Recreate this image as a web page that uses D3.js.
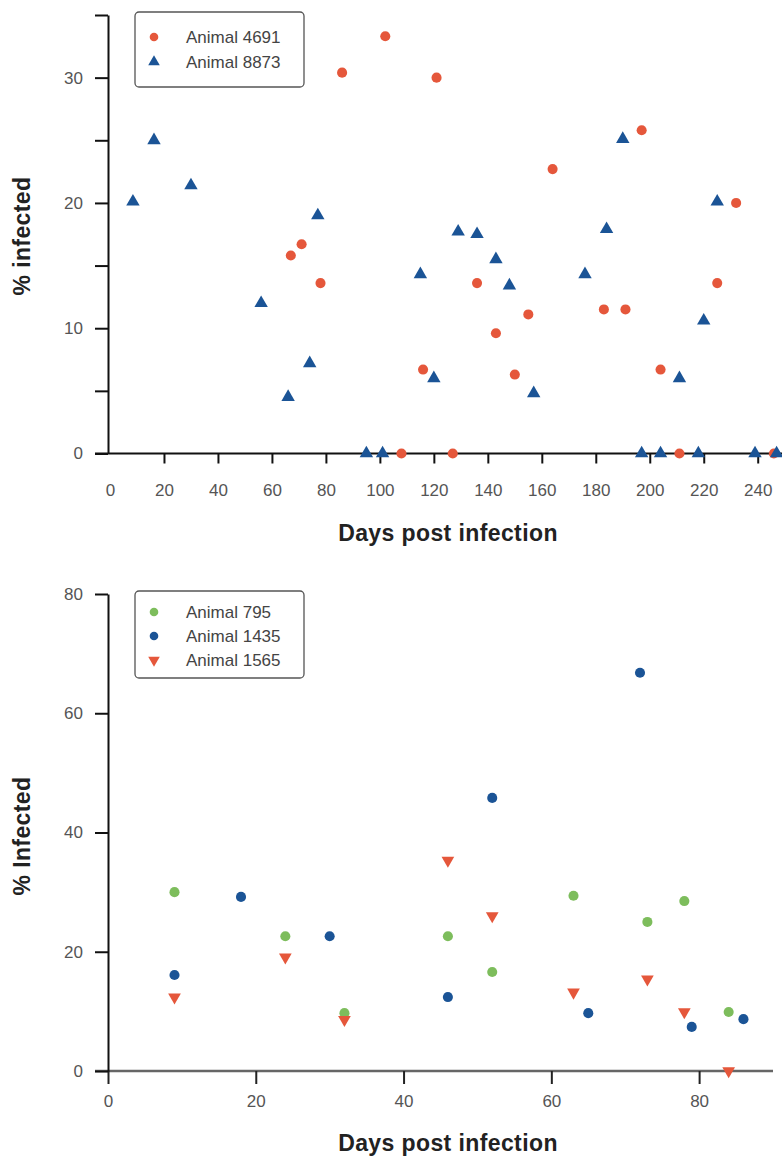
<!DOCTYPE html>
<html>
<head>
<meta charset="utf-8">
<script src="https://cdn.jsdelivr.net/npm/d3@7"></script>
<style>
  body { margin: 0; background: #fff; }
  svg { display: block; font-family: "Liberation Sans", Arial, sans-serif; }
  .tick text { fill: #555; font-size: 17px; }
  .axis-title { font-weight: bold; font-size: 23px; fill: #222; letter-spacing: 0.4px; }
  .legend text { font-size: 17px; fill: #444; }
</style>
</head>
<body>
<svg id="chart" width="782" height="1157"></svg>
<script>
// ---- top panel: days post infection / % infected
var daysA4691 = [67, 71, 78, 86, 102, 108, 116, 121, 127, 136, 143, 150, 155, 164, 183, 191, 197, 204, 211, 225, 232, 246];
var valsA4691 = [15.8, 16.7, 13.6, 30.4, 33.3, 0, 6.7, 30.0, 0, 13.6, 9.6, 6.3, 11.1, 22.7, 11.5, 11.5, 25.8, 6.7, 0, 13.6, 20.0, 0];
var daysA8873 = [8.5, 16.3, 30, 56, 66, 74, 77, 95, 101, 115, 120, 129, 136, 143, 148, 157, 176, 184, 190, 197, 204, 211, 218, 220, 225, 239, 247];
var valsA8873 = [20.1, 25.0, 21.4, 12.0, 4.5, 7.2, 19.0, 0, 0, 14.3, 6.0, 17.7, 17.5, 15.5, 13.4, 4.8, 14.3, 17.9, 25.1, 0, 0, 6.0, 0, 10.6, 20.1, 0, 0];
var topXTicks = [0, 20, 40, 60, 80, 100, 120, 140, 160, 180, 200, 220, 240];
var topYTicks = [0, 5, 10, 15, 20, 25, 30, 35];

// ---- bottom panel
var daysA795 = [9, 24, 32, 46, 52, 63, 73, 78, 84];
var valsA795 = [30.0, 22.6, 9.7, 22.6, 16.6, 29.4, 25.0, 28.5, 9.9];
var daysA1435 = [9, 18, 30, 46, 52, 65, 72, 79, 86];
var valsA1435 = [16.1, 29.2, 22.6, 12.4, 45.8, 9.7, 66.8, 7.4, 8.7];
var daysA1565 = [9, 24, 32, 46, 52, 63, 73, 78, 84];
var valsA1565 = [12.4, 19.1, 8.6, 35.3, 26.0, 13.2, 15.4, 9.9, 0];
var botXTicks = [0, 20, 40, 60, 80];
var botYTicks = [0, 20, 40, 60, 80];

var RED = '#e5573b', BLUE = '#1b5496', GREEN = '#7dbd5c';

function zipPts(days, vals) {
    return days.map(function (d, i) { return {x: d, y: vals[i]}; });
}

var svg = d3.select('#chart');

function drawMarks(g, x, y, pts, shape, color, size, rotate) {
    g.selectAll(null).data(pts).enter().append('path')
        .attr('d', d3.symbol().type(shape).size(size))
        .attr('transform', function (d) {
            return 'translate(' + x(d.x) + ',' + y(d.y) + ')' + (rotate ? ' rotate(180)' : '');
        })
        .attr('fill', color);
}

function legend(g, x0, y0, w, h, rows, items) {
    var lg = g.append('g').attr('class', 'legend');
    lg.append('rect').attr('x', x0).attr('y', y0).attr('width', w).attr('height', h)
        .attr('rx', 4).attr('fill', '#fff').attr('stroke', '#555').attr('stroke-width', 1.3);
    items.forEach(function (it, i) {
        var cy = rows[i];
        lg.append('path').attr('d', d3.symbol().type(it.shape).size(58))
            .attr('transform', 'translate(' + (x0 + 19) + ',' + cy + ')' + (it.rot ? ' rotate(180)' : ''))
            .attr('fill', it.color);
        lg.append('text').attr('x', x0 + 51).attr('y', cy + 6).text(it.label);
    });
}

// ===== top chart
(function () {
    var g = svg.append('g');
    var x = d3.scaleLinear().domain([0, 249]).range([110, 782]);
    var y = d3.scaleLinear().domain([0, 35]).range([453.5, 15]);

    var xa = g.append('g').attr('transform', 'translate(0,' + y(0) + ')')
        .call(d3.axisBottom(x).tickValues(topXTicks).tickSize(10).tickSizeOuter(0).tickPadding(20));
    xa.select('.domain').attr('stroke', '#111').attr('stroke-width', 2).attr('d', 'M95,0H782');
    xa.selectAll('.tick line').attr('stroke', '#111').attr('stroke-width', 2)
        .filter(function (d) { return d == 0; }).remove();

    var ya = g.append('g').attr('transform', 'translate(108,0)')
        .call(d3.axisLeft(y).tickValues(topYTicks).tickSize(13).tickSizeOuter(0).tickPadding(12)
            .tickFormat(function (d) { return d % 10 == 0 ? d : ''; }));
    ya.select('.domain').attr('stroke', '#111').attr('stroke-width', 2);
    ya.selectAll('.tick line').attr('stroke', '#111').attr('stroke-width', 2);

    drawMarks(g, x, y, zipPts(daysA4691, valsA4691), d3.symbolCircle, RED, 80, false);
    drawMarks(g, x, y, zipPts(daysA8873, valsA8873), d3.symbolTriangle, BLUE, 78, false);

    legend(g, 135, 12, 169, 75, [37, 62], [
        {label: 'Animal 4691', shape: d3.symbolCircle, color: RED},
        {label: 'Animal 8873', shape: d3.symbolTriangle, color: BLUE}
    ]);

    g.append('text').attr('class', 'axis-title').attr('text-anchor', 'middle')
        .attr('x', 448).attr('y', 541).text('Days post infection');
    g.append('text').attr('class', 'axis-title').attr('text-anchor', 'middle')
        .attr('transform', 'translate(30,236) rotate(-90)').text('% infected');
})();

// ===== bottom chart
(function () {
    var g = svg.append('g');
    var x = d3.scaleLinear().domain([0, 90]).range([108, 773]);
    var y = d3.scaleLinear().domain([0, 80]).range([1071, 594]);

    var xa = g.append('g').attr('transform', 'translate(0,' + y(0) + ')')
        .call(d3.axisBottom(x).tickValues(botXTicks).tickSize(13).tickSizeOuter(0).tickPadding(11));
    xa.select('.domain').attr('stroke', '#666').attr('stroke-width', 2.5).attr('d', 'M95,0H773');
    xa.selectAll('.tick line').attr('stroke', '#222').attr('stroke-width', 2);

    var ya = g.append('g').attr('transform', 'translate(108,0)')
        .call(d3.axisLeft(y).tickValues(botYTicks).tickSize(13).tickSizeOuter(0).tickPadding(12));
    ya.select('.domain').attr('stroke', '#111').attr('stroke-width', 2);
    ya.selectAll('.tick line').attr('stroke', '#111').attr('stroke-width', 2);

    drawMarks(g, x, y, zipPts(daysA795, valsA795), d3.symbolCircle, GREEN, 80, false);
    drawMarks(g, x, y, zipPts(daysA1435, valsA1435), d3.symbolCircle, BLUE, 80, false);
    drawMarks(g, x, y, zipPts(daysA1565, valsA1565), d3.symbolTriangle, RED, 70, true);

    legend(g, 135, 591, 169, 87, [612, 636, 660], [
        {label: 'Animal 795', shape: d3.symbolCircle, color: GREEN},
        {label: 'Animal 1435', shape: d3.symbolCircle, color: BLUE},
        {label: 'Animal 1565', shape: d3.symbolTriangle, color: RED, rot: true}
    ]);

    g.append('text').attr('class', 'axis-title').attr('text-anchor', 'middle')
        .attr('x', 448).attr('y', 1151).text('Days post infection');
    g.append('text').attr('class', 'axis-title').attr('text-anchor', 'middle')
        .attr('transform', 'translate(30,836) rotate(-90)').text('% Infected');
})();
</script>
</body>
</html>
